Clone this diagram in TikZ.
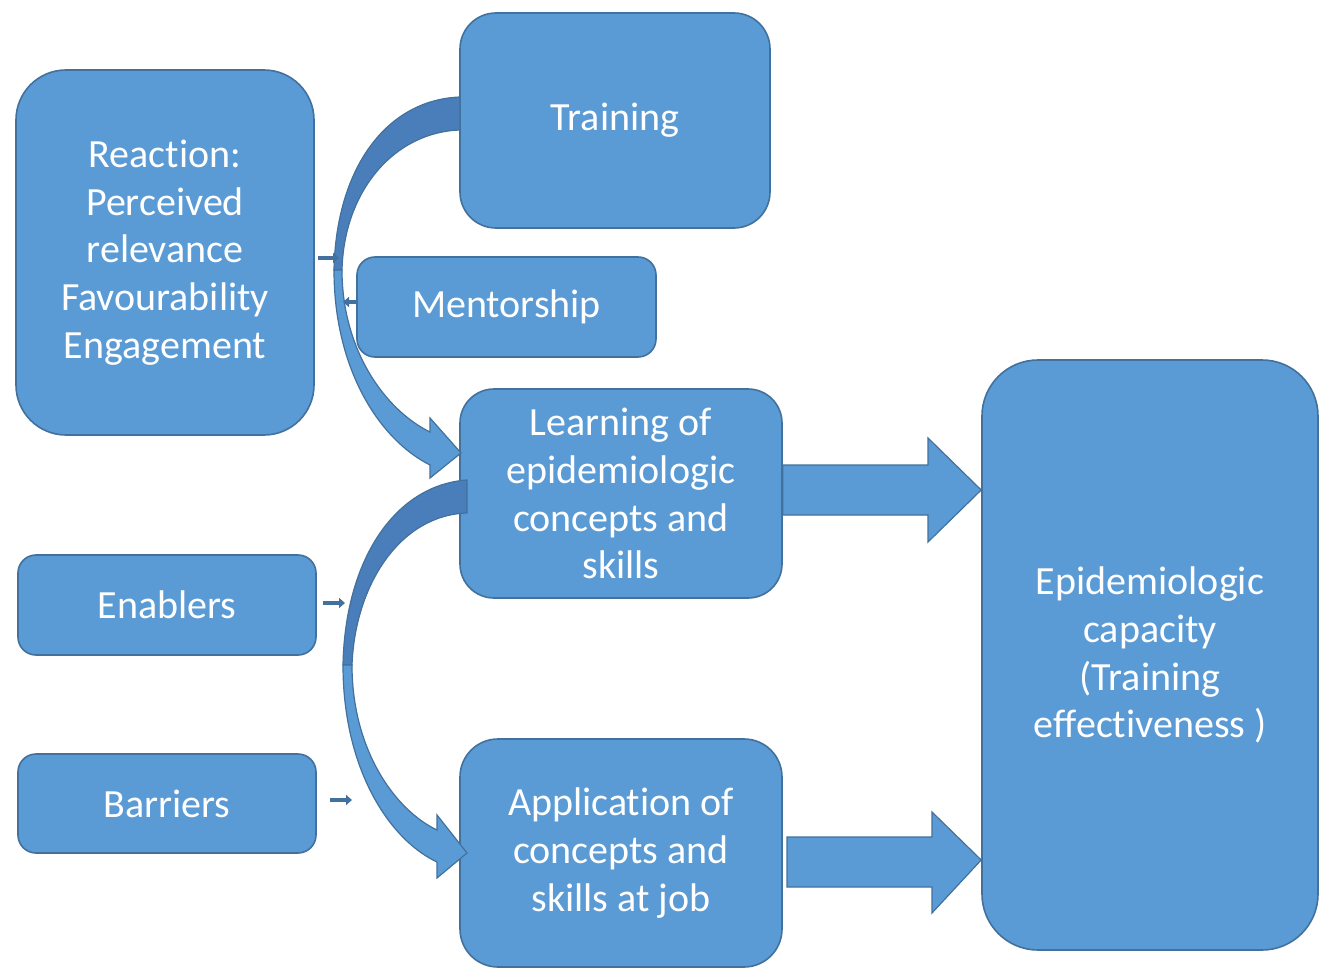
\documentclass[tikz,border=0pt]{standalone}
\usepackage{fontspec}
\setmainfont[Ligatures={NoCommon}]{Carlito}
\usetikzlibrary{arrows.meta}
\definecolor{boxfill}{HTML}{5B9BD5}
\definecolor{boxline}{HTML}{41719C}
\definecolor{backband}{HTML}{4A7EBB}
\tikzset{
  box/.style={draw=boxline, line width=0.8pt, fill=boxfill, text=white, align=center,
    inner sep=0pt, font=\fontsize{20}{23.9}\selectfont},
  blockarrow/.style={draw=boxline, line width=0.6pt, fill=boxfill, line join=miter},
  backarrow/.style={draw=boxline, line width=0.6pt, fill=backband},
  smallarrow/.style={draw=boxline, line width=1.6pt, -{Triangle[length=3pt,width=5pt]}}
}
\begin{document}
\begin{tikzpicture}[x=0.5pt,y=-0.5pt]
\useasboundingbox (0,0) rectangle (1329,979);
\fill[white] (0,0) rectangle (1329,979);

% boxes
\node[box, minimum width=149pt, minimum height=182.5pt, rounded corners=25pt] (reaction) at (165,252.5)
  {Reaction:\\Perceived\\relevance\\Favourability\\Engagement};
\node[box, minimum width=155pt, minimum height=107.5pt, rounded corners=18pt] (training) at (615,120.5) {Training};
\node[box, minimum width=149.5pt, minimum height=50pt, rounded corners=9pt] (mentor) at (506.5,307) {Mentorship};
\node[box, minimum width=161pt, minimum height=104.5pt, rounded corners=17pt] (learning) at (621,493.5)
  {Learning of\\epidemiologic\\concepts and\\skills};
\node[box, minimum width=149pt, minimum height=50pt, rounded corners=9pt] (enablers) at (167,605) {Enablers};
\node[box, minimum width=149pt, minimum height=49.5pt, rounded corners=9pt] (barriers) at (167,803.5) {Barriers};
\node[box, minimum width=161pt, minimum height=114pt, rounded corners=19pt] (application) at (621,853)
  {Application of\\concepts and\\skills at job};
\node[box, minimum width=168pt, minimum height=295pt, rounded corners=28pt] (capacity) at (1150,655)
  {Epidemiologic\\capacity\\(Training\\effectiveness )};

% curved arrow 1: Training -> Learning
\draw[backarrow] (460,97) .. controls (385,100) and (336,170) .. (334,270) -- (342,270)
  .. controls (344,190) and (395,132) .. (460,130) -- cycle;
\draw[blockarrow] (334,270) .. controls (334,370) and (380,440) .. (430,465) -- (430,478)
  -- (461,453) -- (430,418) -- (430,432) .. controls (385,410) and (342,350) .. (342,270) -- cycle;

% curved arrow 2: Learning -> Application
\draw[backarrow] (467,480) .. controls (395,485) and (345,560) .. (343,665) -- (352,665)
  .. controls (355,585) and (400,515) .. (467,513) -- cycle;
\draw[blockarrow] (343,665) .. controls (343,770) and (390,840) .. (437,862) -- (437,878)
  -- (467,853) -- (437,815) -- (437,830) .. controls (395,810) and (352,750) .. (352,665) -- cycle;

% straight block arrows
\draw[blockarrow] (learning.east |- 0,465) -- (928,465) -- (928,438) -- (capacity.west |- 0,490)
  -- (928,542) -- (928,515) -- (learning.east |- 0,515) -- cycle;
\draw[blockarrow] (787,837) -- (932,837) -- (932,812) -- (capacity.west |- 0,860)
  -- (932,913) -- (932,887) -- (787,887) -- cycle;

% small arrows
\coordinate (r1) at (318,258); \coordinate (r2) at (339,258);
\coordinate (m1) at (358,302); \coordinate (m2) at (343,302);
\coordinate (e1) at (323,603); \coordinate (e2) at (345,603);
\coordinate (b1) at (330,800); \coordinate (b2) at (352,800);
\draw[smallarrow] (r1) -- (r2);
\draw[smallarrow] (m1) -- (m2);
\draw[smallarrow] (e1) -- (e2);
\draw[smallarrow] (b1) -- (b2);
\end{tikzpicture}
\end{document}
